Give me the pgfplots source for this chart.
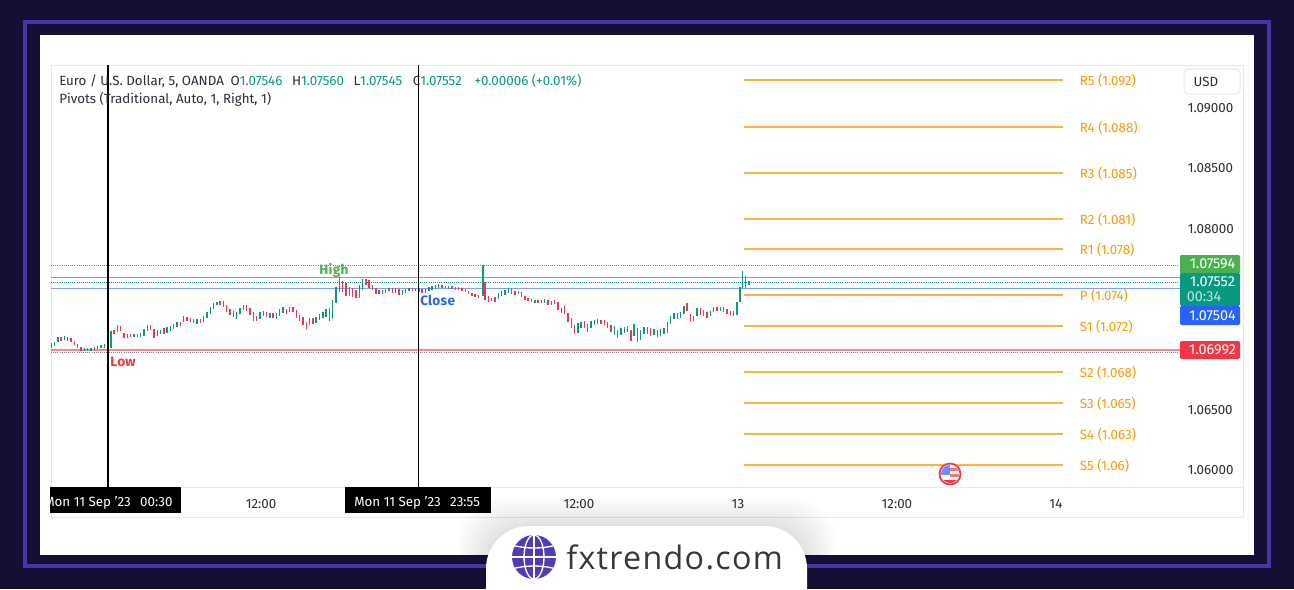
\documentclass[border=0pt]{standalone}
\usepackage{fontspec}
\usepackage{pgfplots}
\usepackage{pgfplotstable}
\pgfplotsset{compat=1.18}
\setmainfont{Fira Sans}
\newfontfamily\logofont[LetterSpace=4]{Open Sans}
\definecolor{bgd}{HTML}{140F35}
\definecolor{frm}{HTML}{4A33A5}
\definecolor{upc}{HTML}{089981}
\definecolor{dnc}{HTML}{F23645}
\definecolor{hic}{HTML}{4CAF50}
\definecolor{bluc}{HTML}{2962FF}
\definecolor{org}{HTML}{FF9800}
\definecolor{txt}{HTML}{2A2E39}
\definecolor{brd}{HTML}{E6E8F0}
\definecolor{glb}{HTML}{4F3DB5}
\pgfplotstableread{
n lo hi d
-46 1.07011 1.07052 1
-43 1.07028 1.07061 1
-40 1.07061 1.07102 1
-37 1.07069 1.07102 0
-34 1.07077 1.07110 1
-31 1.07069 1.07102 0
-28 1.07061 1.07094 0
-25 1.07036 1.07069 0
-22 1.07011 1.07044 0
-19 1.06986 1.07019 0
-16 1.06986 1.07011 1
-13 1.06986 1.07011 0
-10 1.06986 1.07011 1
-7 1.06994 1.07019 1
-4 1.07003 1.07028 1
-1 1.07011 1.07036 1
2 1.07011 1.07044 1
5 1.06994 1.07028 0
8 1.07011 1.07152 1
11 1.07127 1.07160 0
14 1.07144 1.07202 1
17 1.07152 1.07193 0
20 1.07094 1.07135 0
23 1.07094 1.07127 1
26 1.07102 1.07127 0
29 1.07102 1.07127 1
32 1.07102 1.07127 0
35 1.07102 1.07135 1
38 1.07110 1.07169 1
41 1.07152 1.07202 1
44 1.07160 1.07202 0
47 1.07094 1.07169 0
50 1.07110 1.07160 1
53 1.07127 1.07160 1
56 1.07127 1.07177 0
59 1.07135 1.07185 1
62 1.07152 1.07193 1
65 1.07169 1.07210 1
68 1.07185 1.07227 1
71 1.07193 1.07227 0
74 1.07227 1.07276 1
77 1.07235 1.07268 0
80 1.07227 1.07260 0
83 1.07218 1.07251 0
86 1.07210 1.07251 1
89 1.07218 1.07251 0
92 1.07227 1.07276 1
95 1.07260 1.07309 1
98 1.07293 1.07351 1
101 1.07334 1.07384 1
104 1.07367 1.07392 1
107 1.07367 1.07401 0
110 1.07351 1.07401 0
113 1.07309 1.07367 0
116 1.07285 1.07334 0
119 1.07268 1.07318 0
122 1.07251 1.07309 1
125 1.07293 1.07343 1
128 1.07326 1.07367 1
131 1.07318 1.07367 0
134 1.07285 1.07343 0
137 1.07235 1.07309 0
140 1.07235 1.07276 0
143 1.07251 1.07309 1
146 1.07276 1.07318 1
149 1.07268 1.07309 0
152 1.07260 1.07301 1
155 1.07260 1.07301 0
158 1.07251 1.07301 1
161 1.07276 1.07334 1
164 1.07301 1.07351 1
167 1.07293 1.07334 0
170 1.07309 1.07351 1
173 1.07309 1.07351 0
176 1.07260 1.07326 0
179 1.07235 1.07285 0
182 1.07202 1.07268 0
185 1.07169 1.07227 0
188 1.07202 1.07260 1
191 1.07210 1.07260 0
194 1.07218 1.07268 1
197 1.07243 1.07293 1
200 1.07260 1.07309 1
203 1.07268 1.07334 1
206 1.07235 1.07343 0
209 1.07251 1.07409 1
212 1.07384 1.07517 1
215 1.07475 1.07600 1
218 1.07475 1.07566 0
221 1.07442 1.07550 0
224 1.07442 1.07517 1
227 1.07434 1.07508 0
230 1.07426 1.07492 0
233 1.07426 1.07533 1
236 1.07492 1.07583 1
239 1.07533 1.07583 0
242 1.07508 1.07575 0
245 1.07492 1.07533 0
248 1.07459 1.07508 0
251 1.07459 1.07492 1
254 1.07459 1.07492 0
257 1.07467 1.07500 1
260 1.07484 1.07508 1
263 1.07467 1.07508 0
266 1.07467 1.07508 1
269 1.07450 1.07500 0
272 1.07450 1.07492 1
275 1.07467 1.07500 1
278 1.07484 1.07508 1
281 1.07484 1.07508 0
284 1.07484 1.07508 1
287 1.07475 1.07508 0
290 1.07467 1.07500 0
293 1.07467 1.07500 1
296 1.07484 1.07517 1
299 1.07492 1.07525 1
302 1.07500 1.07533 0
305 1.07508 1.07542 1
308 1.07508 1.07533 0
311 1.07508 1.07525 0
314 1.07500 1.07525 1
317 1.07500 1.07525 0
320 1.07492 1.07517 0
323 1.07492 1.07517 0
326 1.07484 1.07508 0
329 1.07475 1.07500 0
332 1.07459 1.07484 0
335 1.07442 1.07467 0
338 1.07434 1.07459 0
341 1.07426 1.07450 0
345 1.07442 1.07699 1
347 1.07409 1.07558 0
350 1.07392 1.07442 0
353 1.07401 1.07426 1
356 1.07392 1.07434 0
359 1.07417 1.07467 1
362 1.07442 1.07484 1
365 1.07450 1.07492 1
368 1.07467 1.07508 1
371 1.07459 1.07508 0
374 1.07450 1.07484 0
377 1.07459 1.07484 1
380 1.07434 1.07475 0
383 1.07409 1.07442 0
386 1.07401 1.07426 0
389 1.07392 1.07417 0
392 1.07384 1.07409 1
395 1.07384 1.07409 0
398 1.07384 1.07409 1
401 1.07384 1.07417 1
404 1.07367 1.07409 0
407 1.07367 1.07401 1
410 1.07376 1.07409 0
413 1.07326 1.07392 0
416 1.07301 1.07343 1
419 1.07293 1.07359 0
422 1.07227 1.07301 0
425 1.07177 1.07260 0
428 1.07127 1.07202 0
431 1.07135 1.07218 1
434 1.07177 1.07227 1
437 1.07177 1.07235 0
440 1.07144 1.07210 0
443 1.07177 1.07235 1
446 1.07202 1.07243 1
449 1.07210 1.07251 1
452 1.07210 1.07243 0
455 1.07202 1.07243 0
458 1.07177 1.07227 0
461 1.07144 1.07202 0
464 1.07119 1.07193 1
467 1.07094 1.07160 0
470 1.07119 1.07177 1
473 1.07135 1.07185 1
476 1.07144 1.07193 1
479 1.07069 1.07160 0
482 1.07110 1.07210 1
485 1.07061 1.07177 0
488 1.07077 1.07160 1
491 1.07127 1.07185 1
494 1.07127 1.07185 0
497 1.07110 1.07177 0
500 1.07119 1.07169 1
503 1.07102 1.07160 0
506 1.07110 1.07169 1
509 1.07127 1.07177 1
512 1.07135 1.07227 1
515 1.07210 1.07276 1
518 1.07251 1.07301 1
521 1.07251 1.07301 0
524 1.07260 1.07309 1
527 1.07293 1.07359 1
530 1.07318 1.07384 0
533 1.07227 1.07293 0
536 1.07235 1.07276 1
539 1.07276 1.07343 1
542 1.07284 1.07343 0
545 1.07276 1.07326 0
548 1.07260 1.07309 0
551 1.07276 1.07318 1
554 1.07309 1.07351 1
557 1.07318 1.07351 0
560 1.07318 1.07351 1
563 1.07309 1.07351 0
566 1.07293 1.07334 0
569 1.07284 1.07318 0
572 1.07276 1.07318 1
575 1.07285 1.07392 1
578 1.07392 1.07517 1
580 1.07508 1.07649 1
583 1.07508 1.07608 0
586 1.07533 1.07566 1
}\candles
\begin{document}
\fontsize{10pt}{12pt}\selectfont
\begin{tikzpicture}[x=0.75pt,y=-0.75pt]
\useasboundingbox (0,0) rectangle (1294,589);
\fill[bgd] (0,0) rectangle (1294,589);
\draw[frm,line width=3pt] (25,22) rectangle (1269,566);
\fill[white] (40,35) rectangle (1254,555);
\draw[brd,line width=0.75pt] (51,65) rectangle (1243,517);
\draw[brd,line width=0.75pt] (51,487) -- (1243,487);
\coordinate (A) at (51,487);
\begin{axis}[
  at={(A)},anchor=south west,
  scale only axis,width=846.75pt,height=316.5pt,
  xmin=-46.2,xmax=976.4,ymin=1.05859,ymax=1.09356,
  axis line style={draw=none},
  major tick style={draw=none},minor tick style={draw=none},
  xtick={144,432,576,720,864},
  xticklabels={12:00,12:00,13,12:00,14},
  ytick={1.06,1.065,1.08,1.085,1.09},
  yticklabel pos=right,
  scaled y ticks=false,
  /pgf/number format/fixed,
  /pgf/number format/fixed zerofill,
  /pgf/number format/precision=5,
  /pgf/number format/assume math mode=true,
  /pgf/number format/1000 sep={},
  tick label style={font=\fontsize{10pt}{12pt}\selectfont,text=txt},
  xticklabel style={yshift=-6pt},
  yticklabel style={xshift=2.3pt},
  clip=true,
]
% horizontal reference lines
\addplot[gray,densely dotted,line width=0.6pt] coordinates {(-46.2,1.07699) (976.4,1.07699)};
\addplot[gray,densely dotted,line width=0.6pt] coordinates {(-46.2,1.06978) (976.4,1.06978)};
\addplot[hic!80!white,line width=0.75pt] coordinates {(-46.2,1.07594) (976.4,1.07594)};
\addplot[upc,densely dotted,line width=0.6pt] coordinates {(-46.2,1.07552) (976.4,1.07552)};
\addplot[bluc!60!white,line width=1.2pt] coordinates {(-46.2,1.07504) (976.4,1.07504)};
\addplot[dnc!60!white,line width=1.2pt] coordinates {(-46.2,1.06992) (976.4,1.06992)};
% pivots
\addplot[org!75!white,line width=0.9pt] coordinates {(581.5,1.09232) (870,1.09232)};
\addplot[org!75!white,line width=0.9pt] coordinates {(581.5,1.08843) (870,1.08843)};
\addplot[org!75!white,line width=0.9pt] coordinates {(581.5,1.08461) (870,1.08461)};
\addplot[org!75!white,line width=0.9pt] coordinates {(581.5,1.08080) (870,1.08080)};
\addplot[org!75!white,line width=0.9pt] coordinates {(581.5,1.07832) (870,1.07832)};
\addplot[org!75!white,line width=0.9pt] coordinates {(581.5,1.07450) (870,1.07450)};
\addplot[org!75!white,line width=0.9pt] coordinates {(581.5,1.07193) (870,1.07193)};
\addplot[org!75!white,line width=0.9pt] coordinates {(581.5,1.06812) (870,1.06812)};
\addplot[org!75!white,line width=0.9pt] coordinates {(581.5,1.06555) (870,1.06555)};
\addplot[org!75!white,line width=0.9pt] coordinates {(581.5,1.06298) (870,1.06298)};
\addplot[org!75!white,line width=0.9pt] coordinates {(581.5,1.06041) (870,1.06041)};
% candles
\addplot[draw=none,no marks,forget plot,
  error bars/.cd,y dir=plus,y explicit,error mark=none,error bar style={draw=upc,solid,line width=1.05pt}]
  table[x expr={\thisrow{d}>0 ? \thisrow{n} : nan},y=lo,y error plus expr={\thisrow{hi}-\thisrow{lo}}] {\candles};
\addplot[draw=none,no marks,forget plot,
  error bars/.cd,y dir=plus,y explicit,error mark=none,error bar style={draw=dnc,solid,line width=1.05pt}]
  table[x expr={\thisrow{d}>0 ? nan : \thisrow{n}},y=lo,y error plus expr={\thisrow{hi}-\thisrow{lo}}] {\candles};
% marker verticals
\addplot[black,line width=1.1pt] coordinates {(5.6,1.05859) (5.6,1.09356)};
\addplot[black,line width=1.1pt] coordinates {(286.5,1.05859) (286.5,1.09356)};
% labels
\node[text=hic,font=\fontsize{10.2pt}{12pt}\selectfont\bfseries\addfontfeatures{LetterSpace=2},anchor=center] at (axis cs:210,1.07652) {High};
\node[text=dnc,font=\fontsize{10.2pt}{12pt}\selectfont\bfseries\addfontfeatures{LetterSpace=2},anchor=center] at (axis cs:19,1.06895) {Low};
\node[text=bluc,font=\fontsize{10.2pt}{12pt}\selectfont\bfseries\addfontfeatures{LetterSpace=2},anchor=center] at (axis cs:304,1.07405) {Close};
\node[text=org,anchor=west,inner sep=0pt] at (axis cs:885.5,1.09228) {R5 (1.092)};
\node[text=org,anchor=west,inner sep=0pt] at (axis cs:885.5,1.08839) {R4 (1.088)};
\node[text=org,anchor=west,inner sep=0pt] at (axis cs:885.5,1.08457) {R3 (1.085)};
\node[text=org,anchor=west,inner sep=0pt] at (axis cs:885.5,1.08076) {R2 (1.081)};
\node[text=org,anchor=west,inner sep=0pt] at (axis cs:885.5,1.07828) {R1 (1.078)};
\node[text=org,anchor=west,inner sep=0pt] at (axis cs:885.5,1.07446) {P (1.074)};
\node[text=org,anchor=west,inner sep=0pt] at (axis cs:885.5,1.07189) {S1 (1.072)};
\node[text=org,anchor=west,inner sep=0pt] at (axis cs:885.5,1.06808) {S2 (1.068)};
\node[text=org,anchor=west,inner sep=0pt] at (axis cs:885.5,1.06551) {S3 (1.065)};
\node[text=org,anchor=west,inner sep=0pt] at (axis cs:885.5,1.06294) {S4 (1.063)};
\node[text=org,anchor=west,inner sep=0pt] at (axis cs:885.5,1.06037) {S5 (1.06)};
\end{axis}
% legend text
\node[anchor=west,inner sep=0pt,text=txt] at (59,80.5) {Euro / U.S. Dollar, 5, OANDA\hspace{5pt}O\textcolor{upc}{1.07546}\hspace{7.2pt}H\textcolor{upc}{1.07560}\hspace{7.2pt}L\textcolor{upc}{1.07545}\hspace{8pt}C\textcolor{upc}{1.07552}\hspace{9.5pt}\textcolor{upc}{+0.00006 (+0.01\%)}};
\node[anchor=west,inner sep=0pt,text=txt] at (59,99) {Pivots (Traditional, Auto, 1, Right, 1)};
% USD
\draw[brd,fill=white,rounded corners=3pt,line width=0.75pt] (1184,69) rectangle (1240,94);
\node[text=txt] at (1206,82) {USD};
% price labels
\fill[hic,rounded corners=1pt] (1180,255) rectangle (1240,274);
\fill[upc,rounded corners=1pt] (1180,273) rectangle (1240,306);
\fill[bluc,rounded corners=1pt] (1180,306) rectangle (1240,325);
\fill[dnc,rounded corners=1pt] (1180,341) rectangle (1240,359);
\begin{scope}[every node/.style={font=\fontsize{10.8pt}{12pt}\selectfont}]
\node[text=white] at (1212.5,264) {1.07594};
\node[text=white] at (1212.5,282) {1.07552};
\node[text=white!75!upc] at (1204,297) {00:34};
\node[text=white] at (1212.5,316) {1.07504};
\node[text=white] at (1212.5,350) {1.06992};
\end{scope}
% time labels
\begin{scope}
\clip (50,485) rectangle (1180,515);
\fill[black] (45,487) rectangle (181,513);
\fill[black] (345,487) rectangle (491,513);
\node[text=white,anchor=west,inner sep=0pt] at (44,503) {Mon 11 Sep '23\hspace{7pt}00:30};
\node[text=white,anchor=west,inner sep=0pt] at (354,503) {Mon 11 Sep '23\hspace{7pt}23:55};
\end{scope}
% flag
\begin{scope}
\fill[white] (950,474) circle (11);
\clip (950,474) circle (9);
\fill[dnc] (940,480) rectangle (960,484);
\fill[dnc!70!white] (950,468) rectangle (960,471);
\fill[dnc!70!white] (950,474) rectangle (960,477);
\fill[bluc!70!white] (940,465) rectangle (950,475);
\end{scope}
\draw[dnc,line width=1.3pt] (950,474) circle (10.5);
% logo shadow
\begin{scope}
\clip (40,35) rectangle (1254,555);
\foreach \g in {28,25,22,19,16,13,10,7,4,2}{
  \fill[black,opacity=0.012,rounded corners=34pt] (486-\g,526-\g) rectangle (807+\g,660);
}
\end{scope}
\fill[white,rounded corners=32pt] (486,526) rectangle (807,660);
\fill[glb] (534,557) circle (22);
\begin{scope}
\clip (534,557) circle (22);
\draw[white,line width=1pt] (534,557) ellipse (10 and 22);
\draw[white,line width=1pt] (534,535) -- (534,579);
\draw[white,line width=1pt] (512,557) -- (556,557);
\draw[white,line width=1pt] (512,545) .. controls (525,549) and (543,549) .. (556,545);
\draw[white,line width=1pt] (512,569) .. controls (525,565) and (543,565) .. (556,569);
\end{scope}
\node[anchor=west,inner sep=0pt,text=black!78] at (566,557) {\fontsize{24.2pt}{28pt}\selectfont\logofont fxtrendo.com};
\end{tikzpicture}
\end{document}
